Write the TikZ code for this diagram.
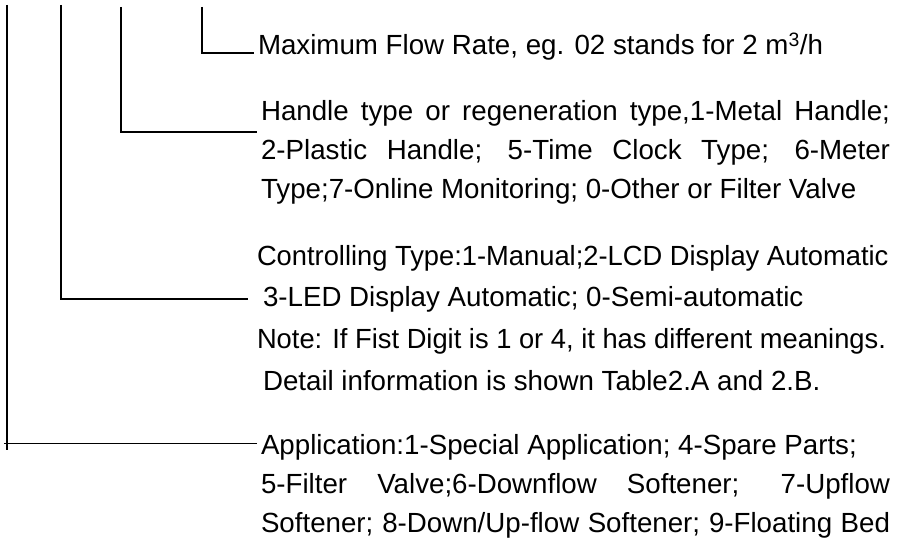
\documentclass[tikz,border=0pt]{standalone}
\usepackage{fontspec}
\setmainfont{Liberation Sans}
% a hair narrower, for the two long lines of the controlling-type block
\newfontfamily\narrowcut[FakeStretch=0.986]{Liberation Sans}
\usetikzlibrary{calc}
\begin{document}
\begin{tikzpicture}[x=1bp,y=-1bp,
  txt/.style={anchor=base west, inner sep=0pt, outer sep=0pt,
    font=\fontsize{27.7bp}{33bp}\selectfont},
  tight/.style={txt, font=\fontsize{27.7bp}{33bp}\selectfont\narrowcut},
  lead/.style={draw=black, line width=1.6bp}]
\useasboundingbox (0,0) rectangle (901,542);

% text lines
\node[txt] (max) at (258,55) {Maximum Flow Rate, eg. 02 stands for 2 m\textsuperscript{3}/h};

\node[txt] (h1) at (261,121) {\makebox[629bp][s]{Handle type or regeneration type,1-Metal Handle;}};
\node[txt] (h2) at (261,160) {\makebox[629bp][s]{2-Plastic Handle; 5-Time Clock Type; 6-Meter}};
\node[txt] (h3) at (261,199) {Type;7-Online Monitoring; 0-Other or Filter Valve};

\node[tight] (c1) at (257,266) {Controlling Type:1-Manual;2-LCD Display Automatic};
\node[txt]   (c2) at (263,307) {3-LED Display Automatic; 0-Semi-automatic};
\node[tight] (c3) at (257,349) {Note: If Fist Digit is 1 or 4, it has different meanings.};
\node[txt]   (c4) at (263,390) {Detail information is shown Table2.A and 2.B.};

\node[txt] (a1) at (261,454) {Application:1-Special Application; 4-Spare Parts;};
\node[txt] (a2) at (261,493) {\makebox[629bp][s]{5-Filter Valve;6-Downflow Softener; 7-Upflow}};
\node[txt] (a3) at (261,532) {\makebox[629bp][s]{Softener; 8-Down/Up-flow Softener; 9-Floating Bed}};

% top ends of the four leaders
\coordinate (t1) at (7,5);
\coordinate (t2) at (61,5);
\coordinate (t3) at (121,7);
\coordinate (t4) at (202,7);

% points where the leaders meet their texts
\coordinate (e4) at ($(max.base west)+(-4,-2)$);
\coordinate (e3) at ($(h1.base west)+(-4,11)$);
\coordinate (e2) at ($(c2.base west)+(-15,-8)$);
\coordinate (e1) at ($(a1.base west)+(-4,-10.5)$);
\coordinate (b1) at ($(e1 -| t1)+(0,6.5)$);

\draw[lead] (t4) |- (e4);
\draw[lead] (t3) |- (e3);
\draw[lead] (t2) |- (e2);
\draw[lead] (t1) -- (b1);
\draw[lead] (e1) -- ($(e1 -| t1)+(-3,0)$);
\end{tikzpicture}
\end{document}
